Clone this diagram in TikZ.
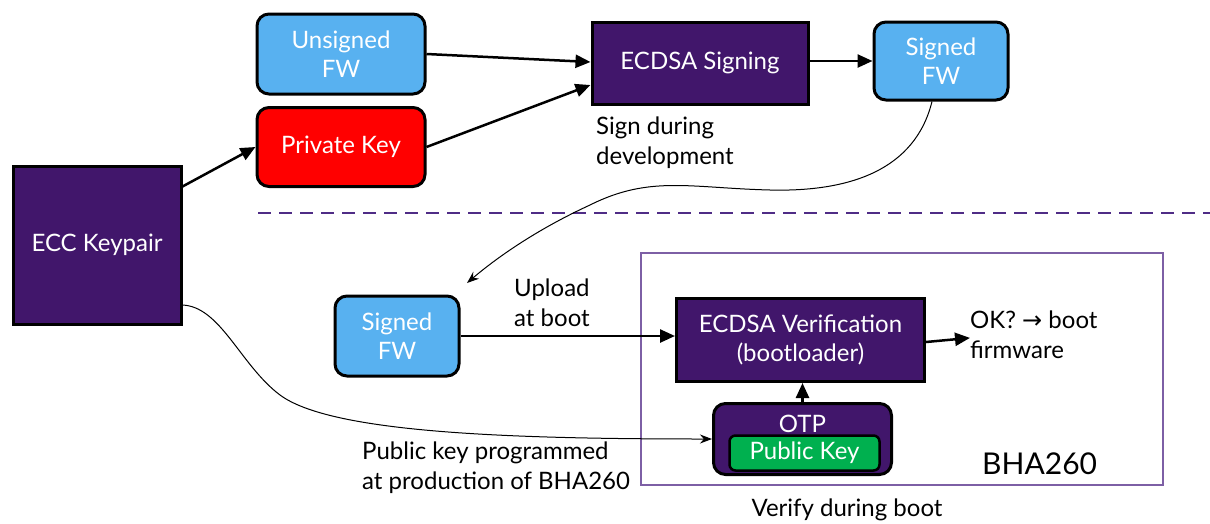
\documentclass[tikz,border=0pt]{standalone}
\usepackage{fontspec}
\setmainfont{Lato}
\newfontfamily\symfont{DejaVu Sans}
\usetikzlibrary{arrows.meta,positioning}
\definecolor{nxpurple}{HTML}{41166B}
\definecolor{fwblue}{HTML}{58B1F0}
\definecolor{keyred}{HTML}{FF0000}
\definecolor{keygreen}{HTML}{00B04F}
\definecolor{chipline}{HTML}{7D5FA5}
\definecolor{splitline}{HTML}{4F2C86}

\begin{document}
\begin{tikzpicture}[x=1pt, y=-1pt,
                   font=\fontsize{24}{29.5}\selectfont,
                   block/.style={draw=black, line width=3pt, fill=nxpurple,
                                 text=white, align=center, inner sep=0pt},
                   fw/.style={block, fill=fwblue, rounded corners=12pt},
                   flow/.style={line width=2.5pt, -{Triangle[length=15pt,width=13pt]}},
                   wire/.style={line width=1pt, -{Stealth[length=12pt,width=9pt]}},
                   note/.style={align=left, anchor=north west, inner sep=0pt}]
          \useasboundingbox (0,0) rectangle (1210,523);

          % development side
          \node[block, minimum width=168pt, minimum height=158pt] (ecc) at (97,245) {ECC Keypair};
          \node[fw, minimum width=168pt, minimum height=80pt] (unsigned) at (341,54) {Unsigned\\FW};
          \node[fw, fill=keyred, minimum width=168pt, minimum height=79pt] (privkey) at (341,147) {Private Key};
          \node[block, minimum width=216pt, minimum height=82pt] (signing) at (700,63) {ECDSA Signing};
          \node[fw, minimum width=134pt, minimum height=78pt] (signedtop) at (941,61) {Signed\\FW};
          \node[note] (devnote) at (596,117) {Sign during\\development};

          \draw[splitline, line width=2.5pt, dash pattern=on 13pt off 8pt] (258,213) -- (1210,213);

          % device side
          \draw[chipline, line width=1.5pt] (641,253) rectangle (1163,485);
          \node[fw, minimum width=124pt, minimum height=80pt] (signedlow) at (397,336) {Signed\\FW};
          \node[note] (upnote) at (514,279) {Upload\\at boot};
          \node[block, minimum width=248pt, minimum height=83pt] (verify) at (800.5,340) {ECDSA Verification\\(bootloader)};
          \node[note] (oknote) at (970,311) {OK? {\symfont →} boot\\firmware};
          \node[block, rounded corners=12pt, minimum width=178pt, minimum height=71pt] (otp) at (802.5,439) {};
          \node[text=white, inner sep=0pt, below=13pt of otp.north] (otplabel) {OTP};
          \node[draw=black, line width=2.5pt, fill=keygreen, rounded corners=6pt, text=white,
                minimum width=150pt, minimum height=35pt, inner sep=0pt] (pubkey) at (804.5,453) {Public Key};
          \node[anchor=base west, inner sep=0pt, font=\fontsize{30}{34}\selectfont] (chipname) at (982,474) {BHA260};
          \node[note] (prognote) at (362,442) {Public key programmed\\at production of BHA260};
          \node[anchor=north, inner sep=0pt] (bootnote) at (847,499) {Verify during boot};

          \coordinate (ecco) at (181,305);
          \coordinate (upin) at (467,283);

          % arrows
          \draw[flow] ([yshift=-22pt]ecc.north east) -- (privkey.west);
          \draw[flow] (unsigned.east) -- ([yshift=1pt]signing.west);
          \draw[flow] (privkey.east) -- ([yshift=-22pt]signing.west);
          \draw[flow] (signing.east |- signedtop.west) -- (signedtop.west);
          \draw[flow] (signedlow.east) -- (signedlow.east -| verify.west);
          \draw[flow] ([yshift=-2pt]verify.east) -- ([yshift=-3pt]oknote.west);
          \draw[flow] (otp.north) -- (otp.north |- verify.south);
          \draw[wire] ([xshift=-9pt]signedtop.south) .. controls (915,170) and (850,192) .. (770,190)
                      .. controls (690,188) and (650,175) .. (590,205)
                      .. controls (540,228) and (500,255) .. (upin);
          \draw[wire] (ecco) .. controls (220,305) and (240,365) .. (280,395)
                      .. controls (330,432) and (500,439) .. (otp.west);
        \end{tikzpicture}
\end{document}
